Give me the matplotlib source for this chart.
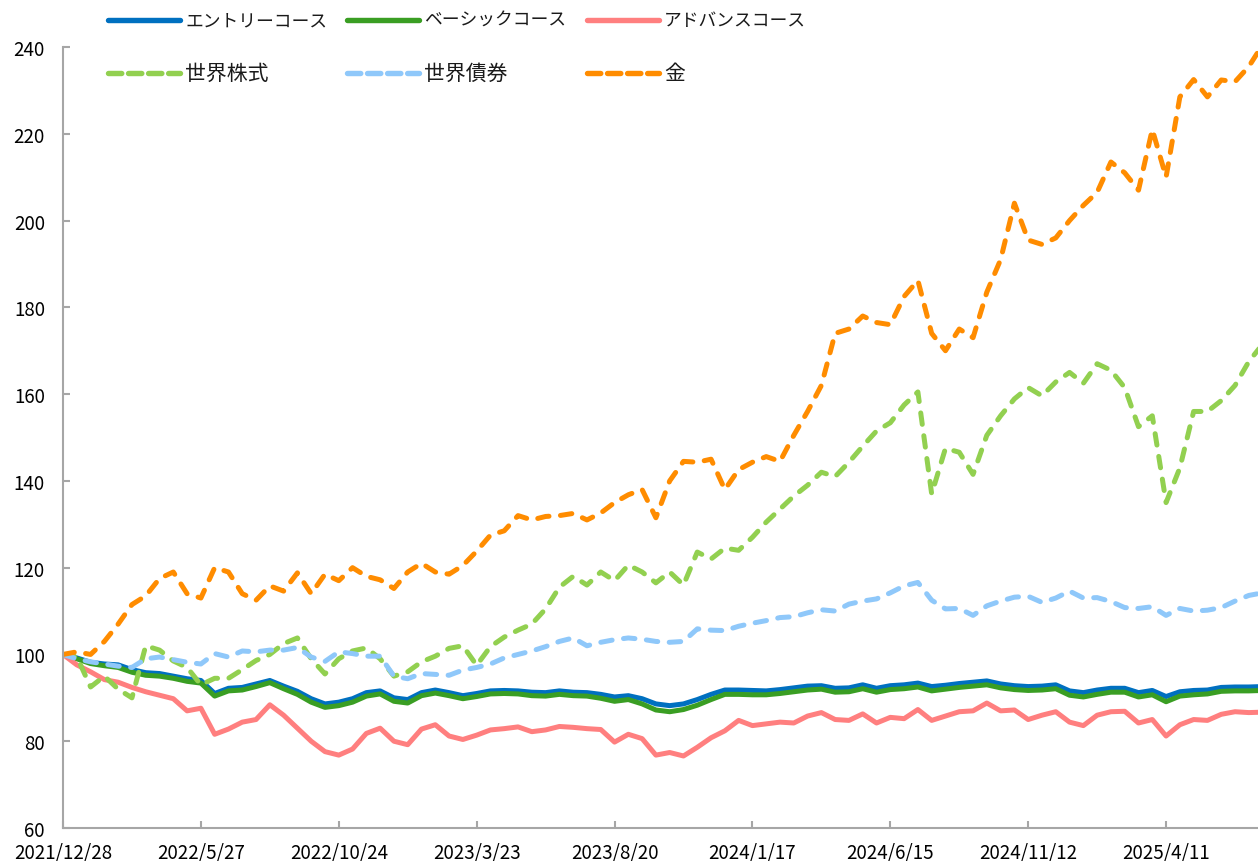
import matplotlib
matplotlib.use("Agg")
import matplotlib.pyplot as plt
import matplotlib.dates as mdates
from matplotlib.lines import Line2D
from matplotlib.ticker import FuncFormatter, FixedLocator
import pandas as pd

plt.rcParams['font.family'] = ['Noto Sans CJK JP', 'DejaVu Sans']

# ---------------- data ----------------
start_date = "2021-12-28"
end_date = "2025-07-20"
n_points = 88
step = "15D"
tick_step = "150D"
n_ticks = 9

labels = ["エントリーコース", "ベーシックコース", "アドバンスコース", "世界株式", "世界債券", "金"]

entry = [100.0, 99.2, 98.2, 97.8, 97.6, 96.5, 95.8, 95.6, 95.0, 94.4,
         94.0, 91.0, 92.2, 92.4, 93.2, 94.0, 92.7, 91.5, 89.8, 88.6,
         89.0, 89.8, 91.2, 91.6, 90.0, 89.6, 91.2, 91.8, 91.2, 90.5,
         91.0, 91.6, 91.7, 91.6, 91.3, 91.2, 91.6, 91.3, 91.2, 90.8,
         90.2, 90.5, 89.8, 88.6, 88.2, 88.6, 89.6, 90.8, 91.8, 91.8,
         91.7, 91.6, 91.9, 92.3, 92.7, 92.8, 92.2, 92.3, 93.0, 92.2,
         92.8, 93.0, 93.4, 92.6, 92.9, 93.3, 93.6, 93.9, 93.2, 92.8,
         92.6, 92.7, 93.0, 91.6, 91.2, 91.8, 92.2, 92.2, 91.2, 91.7,
         90.3, 91.4, 91.7, 91.8, 92.4, 92.5, 92.5, 92.6]

basic = [100.0, 99.0, 97.9, 97.4, 97.0, 95.9, 95.2, 95.0, 94.5, 93.8,
         93.4, 90.4, 91.6, 91.8, 92.6, 93.5, 92.1, 90.8, 89.0, 87.8,
         88.2, 89.0, 90.4, 90.9, 89.2, 88.8, 90.5, 91.1, 90.5, 89.8,
         90.3, 90.9, 91.0, 90.9, 90.5, 90.4, 90.8, 90.5, 90.4, 89.9,
         89.2, 89.6, 88.6, 87.2, 86.8, 87.3, 88.3, 89.6, 90.8, 90.8,
         90.7, 90.7, 91.0, 91.4, 91.8, 92.0, 91.3, 91.4, 92.1, 91.3,
         91.9, 92.1, 92.5, 91.6, 92.0, 92.4, 92.7, 93.0, 92.3, 91.9,
         91.7, 91.8, 92.1, 90.6, 90.2, 90.8, 91.3, 91.3, 90.2, 90.7,
         89.1, 90.4, 90.7, 90.9, 91.5, 91.6, 91.6, 91.7]

advance = [100.0, 97.6, 96.0, 94.2, 93.6, 92.4, 91.4, 90.6, 89.8, 87.0,
           87.6, 81.6, 82.8, 84.4, 85.0, 88.4, 86.0, 83.0, 80.0, 77.6,
           76.8, 78.2, 81.8, 83.0, 80.0, 79.2, 82.8, 83.8, 81.2, 80.4,
           81.4, 82.6, 82.9, 83.3, 82.2, 82.6, 83.4, 83.2, 82.9, 82.7,
           79.8, 81.6, 80.6, 76.8, 77.4, 76.6, 78.6, 80.8, 82.4, 84.8,
           83.6, 84.0, 84.4, 84.2, 85.8, 86.6, 85.0, 84.8, 86.3, 84.2,
           85.5, 85.2, 87.3, 84.8, 85.8, 86.8, 87.0, 88.8, 87.0, 87.2,
           85.0, 86.0, 86.8, 84.4, 83.6, 86.0, 86.8, 86.9, 84.2, 85.0,
           81.2, 83.8, 85.0, 84.8, 86.2, 86.8, 86.6, 86.7]

world_stocks = [100.0, 99.5, 92.5, 95.0, 92.0, 90.0, 102.0, 101.0, 98.5, 97.0,
                93.0, 94.5, 94.5, 96.5, 98.6, 100.0, 102.5, 103.8, 99.0, 95.5,
                99.0, 100.8, 101.5, 99.0, 95.0, 96.0, 98.3, 99.6, 101.4, 102.0,
                97.5, 101.8, 104.0, 105.6, 107.0, 110.5, 115.5, 118.0, 116.0, 119.0,
                117.0, 120.6, 119.0, 116.5, 119.0, 116.0, 123.6, 122.0, 124.5, 124.0,
                127.0, 130.5, 133.5, 136.5, 139.0, 142.0, 141.0, 144.3, 148.0, 151.5,
                153.4, 157.5, 160.5, 137.0, 147.5, 146.6, 141.5, 150.5, 155.0, 158.9,
                161.5, 159.6, 162.8, 165.0, 162.5, 167.0, 165.5, 161.5, 152.5, 155.0,
                135.0, 143.0, 156.0, 156.0, 158.5, 162.0, 167.5, 171.5]

world_bonds = [100.0, 99.0, 98.3, 97.8, 97.3, 97.0, 99.0, 99.4, 98.8, 98.2,
               97.8, 100.2, 99.4, 100.8, 100.6, 101.0, 101.0, 101.6, 99.4, 98.4,
               100.6, 100.2, 99.6, 99.6, 95.0, 94.4, 95.6, 95.4, 95.2, 96.4,
               97.0, 97.8, 99.2, 100.0, 100.8, 101.8, 103.0, 103.8, 102.0, 102.8,
               103.4, 103.8, 103.5, 103.0, 102.8, 103.0, 105.9, 105.6, 105.5, 106.5,
               107.2, 107.8, 108.5, 108.7, 109.6, 110.3, 110.0, 111.6, 112.3, 112.8,
               114.2, 115.8, 116.6, 112.5, 110.5, 110.6, 109.0, 111.2, 112.3, 113.2,
               113.4, 112.0, 113.0, 114.6, 113.0, 113.1, 112.2, 110.8, 110.6, 111.0,
               109.0, 110.6, 110.0, 110.2, 110.8, 112.3, 113.6, 114.2]

gold = [100.0, 100.6, 100.0, 103.0, 107.0, 111.5, 113.5, 117.5, 119.0, 114.0,
        113.0, 120.0, 119.0, 114.0, 112.5, 115.8, 114.6, 118.8, 114.0, 118.5,
        117.0, 120.0, 118.0, 117.2, 115.2, 119.0, 121.0, 119.0, 118.5, 120.5,
        123.8, 127.5, 128.5, 132.0, 131.0, 131.8, 132.0, 132.5, 131.0, 132.6,
        135.0, 136.8, 138.0, 131.5, 140.0, 144.5, 144.3, 145.0, 138.0, 142.6,
        144.3, 145.6, 144.5, 150.5, 156.0, 162.0, 174.0, 175.0, 178.0, 176.5,
        176.0, 182.5, 186.2, 174.0, 170.0, 175.0, 173.0, 183.5, 191.0, 204.0,
        195.5, 194.5, 196.0, 200.0, 203.5, 206.5, 213.5, 211.0, 207.0, 221.0,
        210.0, 228.5, 232.5, 228.5, 232.4, 232.0, 235.5, 240.5]

y_ticks = [60, 80, 100, 120, 140, 160, 180, 200, 220, 240]

# ---------------- styling ----------------
colors = ["#0070C0", "#3A9E23", "#FF7F7F", "#92D050", "#8FC8FA", "#FF8C00"]
dashed = [False, False, False, True, True, True]

dates = pd.date_range(start_date, periods=n_points, freq=step)
series = [entry, basic, advance, world_stocks, world_bonds, gold]

W, H = 1258, 862
fig = plt.figure(figsize=(W / 100, H / 100), dpi=100)
ax = fig.add_axes([63 / W, 1 - 829 / H, (1258 - 63) / W, (829 - 48) / H])

lw = 3.6
dash_pat = (2.3, 2.3)
for vals, c, d, lab in zip(series, colors, dashed, labels):
    line, = ax.plot(dates, vals, color=c, lw=lw, solid_capstyle='round',
                    solid_joinstyle='round', dash_capstyle='round',
                    dash_joinstyle='round', label=lab)
    if d:
        line.set_dashes(dash_pat)

ax.set_ylim(60, 240)
ax.set_yticks(y_ticks)
ax.set_xlim(pd.Timestamp(start_date), pd.Timestamp(end_date))
tick_dates = pd.date_range(start_date, periods=n_ticks, freq=tick_step)
ax.xaxis.set_major_locator(FixedLocator(mdates.date2num(tick_dates)))


def fmt_date(x, pos):
    d = mdates.num2date(x)
    return f"{d.year}/{d.month}/{d.day}"


ax.xaxis.set_major_formatter(FuncFormatter(fmt_date))

for s in ["top", "right"]:
    ax.spines[s].set_visible(False)
for s in ["left", "bottom"]:
    ax.spines[s].set_color("#A6A6A6")
    ax.spines[s].set_linewidth(1.5)
ax.tick_params(axis="both", direction="in", length=5, width=1.5,
               color="#A6A6A6", labelsize=13.5, labelcolor="black")
ax.tick_params(axis="y", pad=13)
ax.tick_params(axis="x", pad=10)

# ---------------- legend (manual, two rows of three) ----------------
col_x = [108, 347, 587]
row_y = [21, 74]
row_font = [12.8, 15]
handle_len = 72
for i, (c, d, lab) in enumerate(zip(colors, dashed, labels)):
    r, k = divmod(i, 3)
    x0 = col_x[k]
    y = 1 - row_y[r] / H
    ln = Line2D([x0 / W, (x0 + handle_len) / W], [y, y], transform=fig.transFigure,
                color=c, lw=3.9, solid_capstyle='round', dash_capstyle='round')
    if d:
        ln.set_dashes((2.45, 1.25))
    fig.add_artist(ln)
    fig.text((x0 + handle_len + 5) / W, y, lab, fontsize=row_font[r], va="center",
             ha="left", color="#1a1a1a")

fig.savefig("out.png", dpi=100)
